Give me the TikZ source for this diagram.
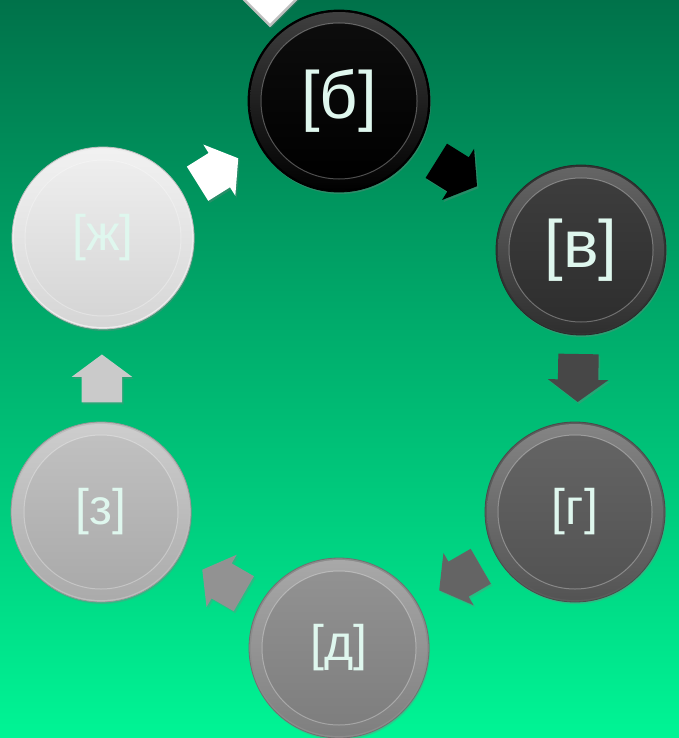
\documentclass[tikz,border=0pt]{standalone}
\usepackage{fontspec}
\setmainfont{Liberation Sans}
\usetikzlibrary{shapes.arrows,calc,shadows}
\definecolor{BgTop}{HTML}{00724A}
\definecolor{BgBot}{HTML}{00F595}
\definecolor{Mint}{HTML}{DFF7EE}
\definecolor{DiscB}{HTML}{000000}
\definecolor{DiscV}{HTML}{333333}
\definecolor{DiscG}{HTML}{5C5C5C}
\definecolor{DiscD}{HTML}{8C8C8C}
\definecolor{DiscZ}{HTML}{BDBDBD}
\definecolor{DiscZh}{HTML}{EDEDED}
\definecolor{RimGray}{HTML}{BEBEBE}

\tikzset{
  disc/.style 2 args={circle,minimum size=2*#2,inner sep=0pt,text=Mint,
    fill=#1,draw=#1!80!black,line width=0.8pt,
    drop shadow={opacity=0.35,shadow xshift=1pt,shadow yshift=-2pt},
    path picture={
      \shade[top color=#1!75!white,bottom color=#1!90!black]
        (path picture bounding box.center) circle ({(#2-2)*1pt});
      \shade[top color=#1!95!white,bottom color=#1!90!black]
        (path picture bounding box.center) circle ({(#2-13)*1pt});
      \draw[white,opacity=0.3,line width=1pt]
        (path picture bounding box.center) circle ({(#2-13)*1pt});
    }},
  barrow/.style={single arrow,fill=#1,minimum height=48pt,
    inner xsep=0pt,inner ysep=20pt,single arrow head extend=10pt,
    single arrow tip angle=107,
    drop shadow={opacity=0.3,shadow xshift=1.5pt,shadow yshift=-2pt}},
  big/.style={font=\fontsize{67}{70}\selectfont},
  mid/.style={font=\fontsize{50}{54}\selectfont}
}

\begin{document}
\begin{tikzpicture}[x=1pt,y=-1pt]
\useasboundingbox (0,0) rectangle (679,738);
\shade[top color=BgTop,bottom color=BgBot] (0,0) rectangle (679,738);

% arrow coming in from the top
\node[barrow=white,single arrow tip angle=90,draw=RimGray,line width=2.5pt,
  rotate=-90] (top) at (270,-9) {};

% the six discs
\node[disc={DiscB}{91pt},big] (b) at (339,101) {[б]};
\node[disc={DiscV}{85pt},big] (v) at (581,250) {[в]};
\node[disc={DiscG}{90pt},mid] (g) at (575,512) {[г]};
\node[disc={DiscD}{90pt},mid] (d) at (339,648) {[д]};
\node[disc={DiscZ}{90pt},mid] (z) at (101,512) {[з]};
\node[disc={DiscZh}{91pt},mid] (zh) at (103,238) {[ж]};

% arrows between them
\node[barrow=black,rotate=-32] (bv) at ($(b)!0.46!(v)$) {};
\node[barrow=DiscV!90!white,rotate=-91] (vg) at ($(v)!0.46!(g)$) {};
\node[barrow=DiscG!95!white,rotate=210] (gd) at ($(g)!0.46!(d)$) {};
\node[barrow=DiscD!95!white,rotate=150] (dz) at ($(d)!0.46!(z)$) {};
\node[barrow=DiscZ!80!white,rotate=90] (zzh) at ($(z)!0.46!(zh)$) {};
\node[barrow=white,rotate=32] (zhb) at ($(zh)!0.46!(b)$) {};
\end{tikzpicture}
\end{document}
